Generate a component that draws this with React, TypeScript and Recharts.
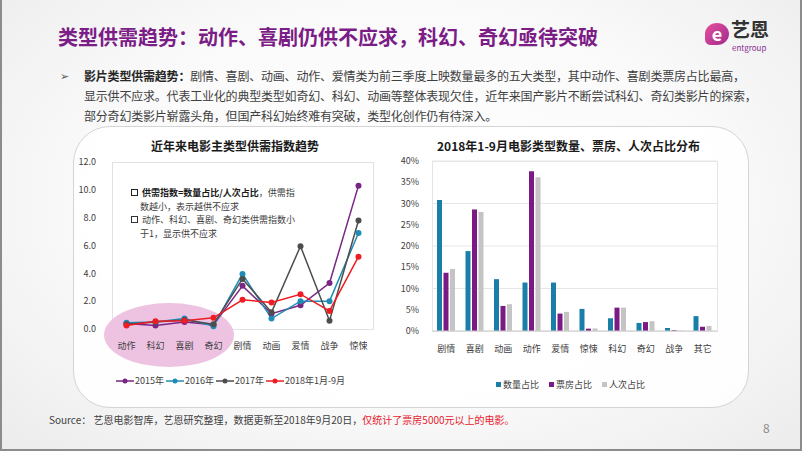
import { LineChart, Line, BarChart, Bar, XAxis, YAxis, CartesianGrid, Legend } from "recharts";

const FONT = '"Noto Sans CJK SC", "Noto Sans", sans-serif';

// left: supply/demand index by genre
const lineCategories = ["动作", "科幻", "喜剧", "奇幻", "剧情", "动画", "爱情", "战争", "惊悚"];
const index2015 = [0.4, 0.25, 0.5, 0.3, 3.1, 1.1, 1.7, 3.3, 10.3];
const index2016 = [0.45, 0.5, 0.75, 0.2, 3.95, 0.75, 2.0, 2.0, 6.9];
const index2017 = [0.35, 0.5, 0.65, 0.35, 3.6, 1.2, 5.95, 0.6, 7.8];
const index2018 = [0.25, 0.55, 0.6, 0.8, 2.1, 1.9, 2.5, 1.3, 5.2];
const indexTicks = [0, 2, 4, 6, 8, 10, 12];

// right: share of count / box office / admissions, Jan-Sep 2018
const barCategories = ["剧情", "喜剧", "动画", "动作", "爱情", "惊悚", "科幻", "奇幻", "战争", "其它"];
const countShare = [30.8, 18.8, 12.2, 11.4, 11.4, 5.2, 3.0, 1.9, 0.7, 3.5];
const boxOfficeShare = [13.7, 28.6, 5.9, 37.6, 4.1, 0.55, 5.5, 2.1, 0.2, 1.0];
const admissionShare = [14.6, 28.0, 6.3, 36.2, 4.5, 0.6, 5.5, 2.3, 0.1, 1.2];
const shareTicks = [0, 5, 10, 15, 20, 25, 30, 35, 40];

const lineSeries = [
  { key: "y2015", name: "2015年", color: "#7a2586", values: index2015 },
  { key: "y2016", name: "2016年", color: "#1f8cb5", values: index2016 },
  { key: "y2017", name: "2017年", color: "#4d4d4d", values: index2017 },
  { key: "y2018", name: "2018年1月-9月", color: "#ee1d24", values: index2018 },
];

const barSeries = [
  { key: "count", name: "数量占比", color: "#1a7fa8", values: countShare },
  { key: "box", name: "票房占比", color: "#7b1a85", values: boxOfficeShare },
  { key: "adm", name: "人次占比", color: "#c4c4c4", values: admissionShare },
];

const lineData = lineCategories.map((c, i) => {
  const row: Record<string, string | number> = { name: c };
  lineSeries.forEach((s) => (row[s.key] = s.values[i]));
  return row;
});

const barData = barCategories.map((c, i) => {
  const row: Record<string, string | number> = { name: c };
  barSeries.forEach((s) => (row[s.key] = s.values[i]));
  return row;
});

const tickStyle = { fontSize: 9, fill: "#404040", fontFamily: FONT };

function LineLegend() {
  return (
    <div style={{ display: "flex", fontSize: 9, color: "#404040", fontFamily: FONT, whiteSpace: "nowrap" }}>
      {lineSeries.map((s) => (
        <span key={s.key} style={{ display: "flex", alignItems: "center", marginRight: 2 }}>
          <svg width={18} height={8} style={{ marginRight: 1 }}>
            <line x1={0} y1={4} x2={18} y2={4} stroke={s.color} strokeWidth={1.5} />
            <circle cx={9} cy={4} r={2.5} fill={s.color} />
          </svg>
          {s.name}
        </span>
      ))}
    </div>
  );
}

function BarLegend() {
  return (
    <div style={{ display: "flex", fontSize: 9, color: "#404040", fontFamily: FONT, whiteSpace: "nowrap" }}>
      {barSeries.map((s) => (
        <span key={s.key} style={{ display: "flex", alignItems: "center", marginRight: 10 }}>
          <span style={{ width: 5, height: 5, background: s.color, marginRight: 2, display: "inline-block" }} />
          {s.name}
        </span>
      ))}
    </div>
  );
}

function Box({ bold }: { bold?: boolean }) {
  return (
    <span
      style={{
        display: "inline-block",
        width: 5,
        height: 5,
        border: `1.5px solid ${bold ? "#222" : "#333"}`,
        marginRight: 4,
        verticalAlign: "middle",
        position: "relative",
        top: -1,
      }}
    />
  );
}

export default function App() {
  return (
    <div
      style={{
        position: "absolute",
        left: 0,
        top: 0,
        width: 802,
        height: 451,
        boxSizing: "border-box",
        borderLeft: "2px solid #8c8c8c",
        borderRight: "2px solid #8c8c8c",
        borderBottom: "2px solid #8c8c8c",
        background: "radial-gradient(ellipse at 50% 45%, #ffffff 0%, #fafafa 55%, #ececec 100%)",
        fontFamily: FONT,
        overflow: "hidden",
      }}
    >
      {/* title */}
      <div
        style={{
          position: "absolute",
          left: 56,
          top: 22,
          fontSize: 20,
          fontWeight: 700,
          color: "#7b1c87",
          whiteSpace: "nowrap",
        }}
      >
        类型供需趋势：动作、喜剧仍供不应求，科幻、奇幻亟待突破
      </div>

      {/* logo */}
      <div
        style={{
          position: "absolute",
          left: 703,
          top: 23,
          width: 24,
          height: 22,
          borderRadius: "50% 50% 50% 25%",
          background: "linear-gradient(135deg, #e8509a 0%, #a02a8e 100%)",
          color: "#fff",
          fontSize: 18,
          fontWeight: 700,
          lineHeight: "20px",
          textAlign: "center",
        }}
      >
        e
      </div>
      <div style={{ position: "absolute", left: 729, top: 19, fontSize: 19, fontWeight: 700, color: "#333", lineHeight: "19px" }}>
        艺恩
      </div>
      <div style={{ position: "absolute", left: 730, top: 42, fontSize: 8, color: "#8a2b90", lineHeight: "12px" }}>
        entgroup
      </div>

      {/* bullet text */}
      <div style={{ position: "absolute", left: 58, top: 67, fontSize: 11, color: "#555" }}>➢</div>
      <div
        style={{
          position: "absolute",
          left: 82,
          top: 66,
          fontSize: 12,
          lineHeight: "20px",
          color: "#404040",
          letterSpacing: -0.2,
          whiteSpace: "nowrap",
        }}
      >
        <div>
          <b style={{ color: "#262626" }}>影片类型供需趋势：</b>
          剧情、喜剧、动画、动作、爱情类为前三季度上映数量最多的五大类型，其中动作、喜剧类票房占比最高，
        </div>
        <div>显示供不应求。代表工业化的典型类型如奇幻、科幻、动画等整体表现欠佳，近年来国产影片不断尝试科幻、奇幻类影片的探索，</div>
        <div>部分奇幻类影片崭露头角，但国产科幻始终难有突破，类型化创作仍有待深入。</div>
      </div>

      {/* rounded panel */}
      <div
        style={{
          position: "absolute",
          left: 71,
          top: 126,
          width: 676,
          height: 282,
          boxSizing: "border-box",
          border: "1px solid #d4d4d4",
          borderRadius: 37,
          background: "rgba(255,255,255,0.85)",
        }}
      />

      {/* chart titles */}
      <div style={{ position: "absolute", left: 149, top: 137, fontSize: 12, fontWeight: 700, color: "#1a1a1a", whiteSpace: "nowrap" }}>
        近年来电影主类型供需指数趋势
      </div>
      <div style={{ position: "absolute", left: 435, top: 137, fontSize: 12, fontWeight: 700, color: "#1a1a1a", whiteSpace: "nowrap" }}>
        2018年1-9月电影类型数量、票房、人次占比分布
      </div>

      {/* left plot frame and highlight ellipse */}
      <div
        style={{
          position: "absolute",
          left: 110,
          top: 162,
          width: 262,
          height: 168,
          boxSizing: "border-box",
          border: "1px solid #e2e2e2",
          background: "#fff",
        }}
      />
      <div
        style={{
          position: "absolute",
          left: 102,
          top: 303,
          width: 130,
          height: 64,
          borderRadius: "50%",
          background: "#eec3e2",
        }}
      />

      <div style={{ position: "absolute", left: 60, top: 150 }}>
        <LineChart width={330} height={245} data={lineData} margin={{ top: 12, right: 19, left: 0, bottom: 41 }}>
          <XAxis
            dataKey="name"
            axisLine={false}
            tickLine={false}
            tick={tickStyle}
            tickMargin={8}
            height={25}
            interval={0}
            padding={{ left: 14.5, right: 14.5 }}
          />
          <YAxis
            domain={[0, 12]}
            ticks={indexTicks}
            tickFormatter={(v: number) => v.toFixed(1)}
            axisLine={false}
            tickLine={false}
            tick={tickStyle}
            tickMargin={10}
            width={50}
          />
          {lineSeries.map((s) => (
            <Line
              key={s.key}
              dataKey={s.key}
              name={s.name}
              stroke={s.color}
              strokeWidth={1.5}
              dot={{ r: 3, fill: s.color, stroke: s.color, strokeWidth: 0 }}
              activeDot={false}
              isAnimationActive={false}
            />
          ))}
          <Legend
            layout="horizontal"
            verticalAlign="middle"
            align="center"
            content={() => <LineLegend />}
            wrapperStyle={{ top: 224, left: 54, width: "auto" }}
          />
        </LineChart>
      </div>

      {/* annotation inside left chart */}
      <div
        style={{
          position: "absolute",
          left: 129,
          top: 186,
          fontSize: 9,
          lineHeight: "13.5px",
          color: "#404040",
          whiteSpace: "nowrap",
        }}
      >
        <div>
          <Box bold />
          <b style={{ color: "#1a1a1a" }}>供需指数=数量占比/人次占比</b>，供需指
        </div>
        <div style={{ paddingLeft: 9 }}>数越小，表示越供不应求</div>
        <div>
          <Box />
          动作、科幻、喜剧、奇幻类供需指数小
        </div>
        <div style={{ paddingLeft: 9 }}>于1，显示供不应求</div>
      </div>

      {/* right chart */}
      <div
        style={{
          position: "absolute",
          left: 430,
          top: 161,
          width: 286,
          height: 171,
          boxSizing: "border-box",
          border: "1px solid #e4e4e4",
          background: "#fff",
        }}
      />
      <div style={{ position: "absolute", left: 380, top: 150 }}>
        <BarChart
          width={345}
          height={245}
          data={barData}
          margin={{ top: 11, right: 10, left: 0, bottom: 39 }}
          barSize={5}
          barGap={1.5}
        >
          <CartesianGrid vertical={false} stroke="#e6e6e6" />
          <XAxis
            dataKey="name"
            axisLine={{ stroke: "#d0d0d0" }}
            tickLine={false}
            tick={tickStyle}
            tickMargin={9}
            height={25}
            interval={0}
          />
          <YAxis
            domain={[0, 40]}
            ticks={shareTicks}
            tickFormatter={(v: number) => `${v}%`}
            axisLine={false}
            tickLine={false}
            tick={tickStyle}
            tickMargin={7}
            width={50}
          />
          {barSeries.map((s) => (
            <Bar key={s.key} dataKey={s.key} name={s.name} fill={s.color} isAnimationActive={false} />
          ))}
          <Legend
            layout="horizontal"
            verticalAlign="middle"
            align="center"
            content={() => <BarLegend />}
            wrapperStyle={{ top: 228, left: 114, width: "auto" }}
          />
        </BarChart>
      </div>

      {/* source */}
      <div style={{ position: "absolute", left: 47, top: 412, fontSize: 10, color: "#404040", whiteSpace: "nowrap" }}>
        Source： 艺恩电影智库，艺恩研究整理，数据更新至2018年9月20日，
        <span style={{ color: "#e8192c" }}>仅统计了票房5000元以上的电影。</span>
      </div>
      <div style={{ position: "absolute", left: 761, top: 419, fontSize: 12, color: "#8c8c8c" }}>8</div>
    </div>
  );
}
